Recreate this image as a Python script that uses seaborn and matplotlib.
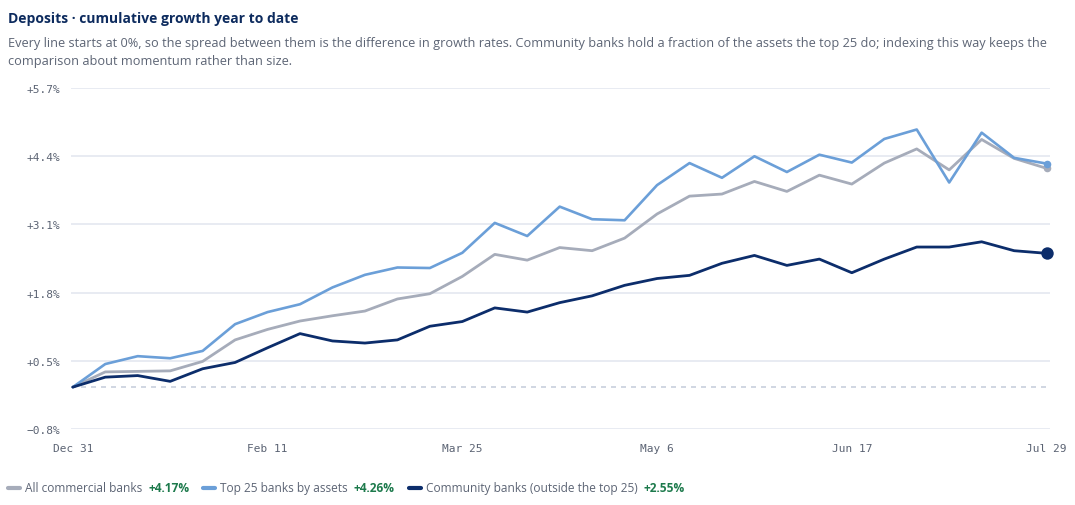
import numpy as np
import pandas as pd
import seaborn as sns
import matplotlib
matplotlib.use('Agg')
import matplotlib.pyplot as plt
from matplotlib.lines import Line2D

# weekly cumulative growth since Dec 31, in %
dates = pd.date_range('2022-12-31', periods=31, freq='7D')

all_banks = [0.00, 0.29, 0.30, 0.31, 0.49, 0.90, 1.10, 1.26, 1.36, 1.45, 1.68,
             1.78, 2.11, 2.53, 2.42, 2.66, 2.60, 2.84, 3.30, 3.64, 3.68,
             3.92, 3.73, 4.04, 3.87, 4.27, 4.54, 4.14, 4.72, 4.36, 4.17]
top25 = [0.00, 0.44, 0.59, 0.55, 0.69, 1.20, 1.43, 1.58, 1.90, 2.14, 2.28,
         2.27, 2.56, 3.13, 2.88, 3.44, 3.20, 3.18, 3.85, 4.27, 3.99,
         4.40, 4.10, 4.43, 4.28, 4.73, 4.91, 3.90, 4.85, 4.37, 4.26]
community = [0.00, 0.19, 0.22, 0.11, 0.35, 0.47, 0.75, 1.02, 0.88, 0.84, 0.90,
             1.16, 1.25, 1.51, 1.43, 1.61, 1.74, 1.94, 2.07, 2.13, 2.36,
             2.51, 2.32, 2.44, 2.18, 2.44, 2.67, 2.67, 2.77, 2.60, 2.55]

series_names = ['All commercial banks', 'Top 25 banks by assets',
                'Community banks (outside the top 25)']
y_ticks = [-0.8, 0.5, 1.8, 3.1, 4.4, 5.7]
x_tick_idx = [0, 6, 12, 18, 24, 30]

colors = {series_names[0]: '#a6acba',
          series_names[1]: '#6b9fd8',
          series_names[2]: '#0c2d6b'}
widths = {series_names[0]: 2.0, series_names[1]: 1.9, series_names[2]: 2.0}
end_size = {series_names[0]: 30, series_names[1]: 30, series_names[2]: 80}

df = pd.DataFrame({'date': dates,
                   series_names[0]: all_banks,
                   series_names[1]: top25,
                   series_names[2]: community})
long = df.melt(id_vars='date', var_name='series', value_name='growth')

sns.set_style('white')
plt.rcParams['font.family'] = ['Open Sans', 'DejaVu Sans']

fig = plt.figure(figsize=(10.75, 5.06), dpi=100)
ax = fig.add_axes([0.066, 0.150, 0.911, 0.674])

for name in series_names:
    sub = long[long['series'] == name]
    sns.lineplot(data=sub, x='date', y='growth', color=colors[name],
                 linewidth=widths[name], ax=ax, legend=False, zorder=3)
    last = sub.iloc[[-1]]
    ax.scatter(last['date'], last['growth'], s=end_size[name],
               color=colors[name], zorder=4, clip_on=False, linewidths=0)

ax.set_xlim(dates[0] - pd.Timedelta(days=0.4), dates[-1] + pd.Timedelta(days=0.8))
ax.set_ylim(-0.8, 5.7)
ax.set_yticks(y_ticks)
ax.set_yticklabels([f'{v:+.1f}%'.replace('-', '\u2212') for v in y_ticks],
                   family='DejaVu Sans Mono', fontsize=8, color='#5b6373')
ax.set_xticks([dates[i] for i in x_tick_idx])
ax.set_xticklabels([f'{dates[i]:%b} {dates[i].day}' for i in x_tick_idx],
                   family='DejaVu Sans Mono', fontsize=8, color='#5b6373')
ax.tick_params(axis='both', length=0)
ax.tick_params(axis='y', pad=8)
ax.tick_params(axis='x', pad=10)
ax.grid(axis='y', color='#e4e8f0', linewidth=1.2)
ax.grid(axis='x', visible=False)
ax.axhline(0, color='#c8cfdd', linewidth=1.2, linestyle=(0, (3, 3)), zorder=2)
for s in ax.spines.values():
    s.set_visible(False)
ax.set_xlabel('')
ax.set_ylabel('')

fig.text(0.0075, 0.963, 'Deposits \u00b7 cumulative growth year to date',
         fontsize=10, fontweight='bold', color='#0d2b5e', va='center')
fig.text(0.0075, 0.915,
         'Every line starts at 0%, so the spread between them is the difference in growth rates. '
         'Community banks hold a fraction of the assets the top 25 do; indexing this way keeps the',
         fontsize=9.2, color='#5d6575', va='center')
fig.text(0.0075, 0.878, 'comparison about momentum rather than size.',
         fontsize=9.2, color='#5d6575', va='center')

# legend row built by hand: swatch, label, bold value
renderer = fig.canvas.get_renderer()
ends = [all_banks[-1], top25[-1], community[-1]]
x_px = 8
y_leg = 1 - 489 / 506
W = fig.bbox.width
for name, val in zip(series_names, ends):
    fig.add_artist(Line2D([x_px / W, (x_px + 12) / W], [y_leg, y_leg],
                          color=colors[name], linewidth=3, solid_capstyle='round'))
    x_px += 17
    t = fig.text(x_px / W, y_leg, name, fontsize=8.6, color='#5d6575', va='center')
    x_px += t.get_window_extent(renderer).width + 6
    t = fig.text(x_px / W, y_leg, f'{val:+.2f}%', fontsize=8.6, fontweight='bold',
                 color='#1d7a4c', va='center')
    x_px += t.get_window_extent(renderer).width + 14

fig.savefig('out.png', dpi=100)
